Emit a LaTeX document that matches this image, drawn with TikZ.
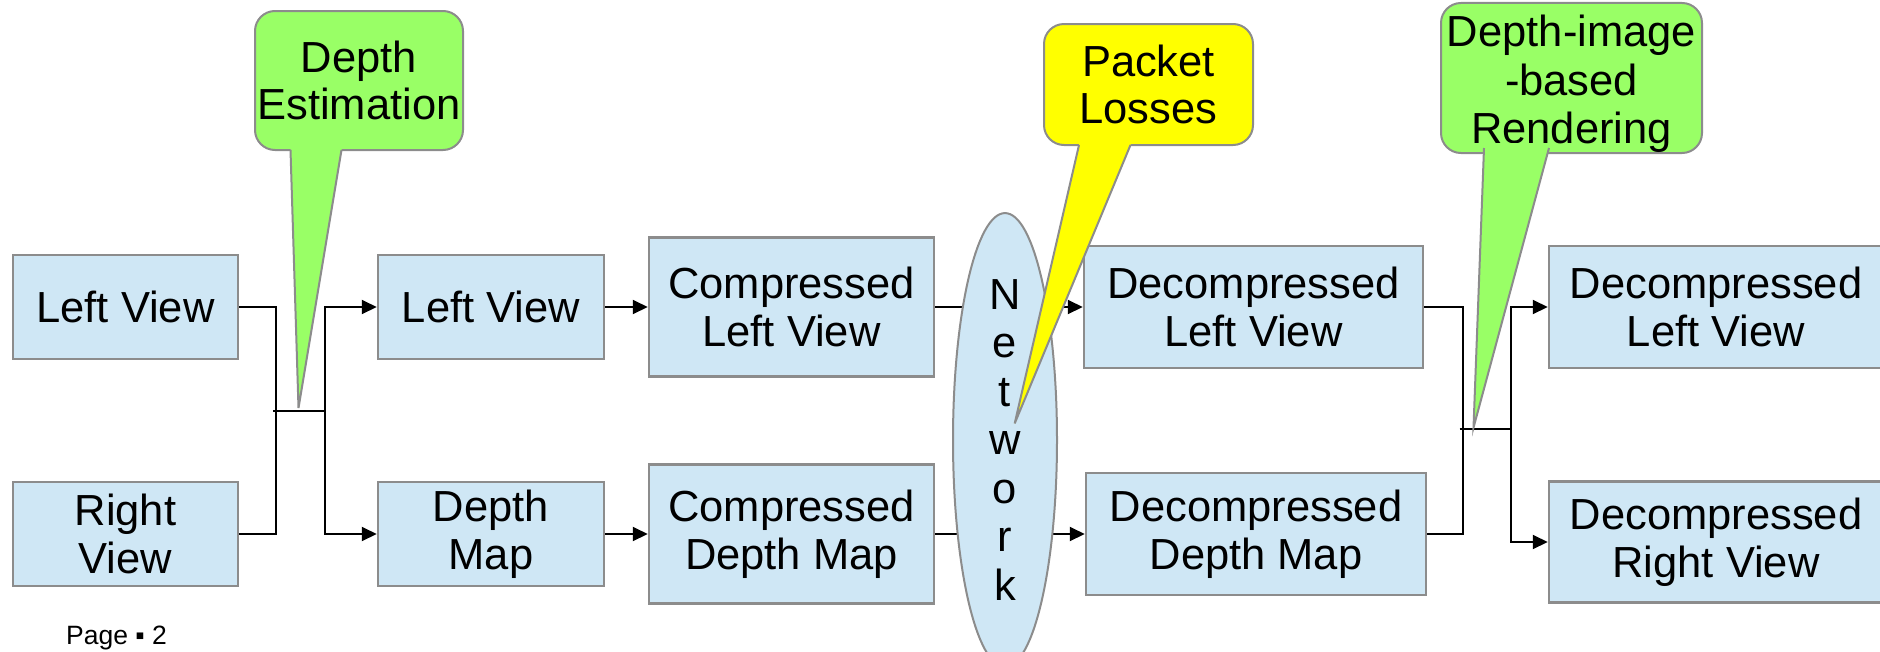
\documentclass[tikz,border=0pt]{standalone}
\usepackage{fontspec}
\setmainfont{Liberation Sans}
\usetikzlibrary{shapes.geometric,arrows.meta,backgrounds}
\definecolor{boxblue}{HTML}{CFE7F5}
\definecolor{boxline}{HTML}{8C8C8C}
\definecolor{callgreen}{HTML}{99FF66}
\definecolor{callyellow}{HTML}{FFFF00}
\tikzset{
  txt/.style={font=\fontsize{43.5}{47.5}\selectfont, align=center, text=black},
  blk/.style={txt, draw=boxline, line width=2.5pt, fill=boxblue, inner sep=0pt},
  conn/.style={draw=black, line width=2pt},
  arr/.style={conn, -{Triangle[length=15pt,width=14pt]}},
  callout/.style={txt, draw=boxline, line width=2pt, rounded corners=20pt, inner sep=0pt},
  tailline/.style={draw=boxline, line width=2pt, line join=miter},
}
\begin{document}
\begin{tikzpicture}[x=1pt, y=-1pt]
\useasboundingbox (0,0) rectangle (1880,651);

% process boxes
\node[blk, minimum width=225pt, minimum height=104pt] (lv1) at (125.5,307) {Left View};
\node[blk, minimum width=225pt, minimum height=104pt] (rv1) at (125.5,534) {Right\\View};
\node[blk, minimum width=226pt, minimum height=104pt] (lv2) at (491,307) {Left View};
\node[blk, minimum width=226pt, minimum height=104pt] (dm) at (491,534) {Depth\\Map};
\node[blk, minimum width=285pt, minimum height=139pt] (clv) at (791.5,307) {Compressed\\Left View};
\node[blk, minimum width=285pt, minimum height=139pt] (cdm) at (791.5,534) {Compressed\\Depth Map};
\node[blk, minimum width=339pt, minimum height=122pt] (dlv) at (1253.5,307) {Decompressed\\Left View};
\node[blk, minimum width=340pt, minimum height=122pt] (ddm) at (1256,534) {Decompressed\\Depth Map};
\node[blk, minimum width=334pt, minimum height=122pt] (dlv2) at (1716,307) {Decompressed\\Left View};
\node[blk, minimum width=334pt, minimum height=121pt] (drv) at (1716,542) {Decompressed\\Right View};

% connectors (behind)
\coordinate (m1) at (276,411);
\coordinate (s1) at (324.5,411);
\coordinate (m2) at (1462.5,429);
\coordinate (s2) at (1510.5,429);
\begin{pgfonlayer}{background}
\draw[conn] (lv1.east) -| (m1) |- (rv1.east);
\draw[conn] ([xshift=-3pt]m1) -- (s1);
\draw[arr] (s1) |- (lv2.west);
\draw[arr] (s1) |- (dm.west);
\draw[arr] (lv2.east) -- (clv.west);
\draw[arr] (dm.east) -- (cdm.west);
\draw[arr] (clv.east) -- (dlv.west);
\draw[arr] (cdm.east) -- (ddm.west);
\draw[conn] (dlv.east) -| (m2) |- (ddm.east);
\draw[conn] ([xshift=-3pt]m2) -- (s2);
\draw[arr] (s2) |- (dlv2.west);
\draw[arr] (s2) |- (drv.west);
\end{pgfonlayer}

% network
\node[ellipse, draw=boxline, line width=2pt, fill=boxblue, inner sep=0pt,
      minimum width=104pt, minimum height=442pt, align=center,
      font=\fontsize{43.5}{48.5}\selectfont] (net) at (1005,440) {N\\e\\t\\w\\o\\r\\k};

% callouts
\node[callout, fill=callgreen, minimum width=208pt, minimum height=139pt] (de) at (359,80.5) {Depth\\Estimation};
\node[callout, fill=callyellow, minimum width=209pt, minimum height=121pt] (pl) at (1148.5,84.5) {Packet\\Losses};
\node[callout, fill=callgreen, minimum width=261pt, minimum height=140pt,
      font=\fontsize{43.5}{48.5}\selectfont] (dr) at (1571.5,78) {\rule{0pt}{44pt}Depth-image\\-based\\Rendering};

\coordinate (de-l) at (290.5,150);
\coordinate (de-r) at (341.5,150);
\coordinate (de-tip) at (298.5,408);
\coordinate (pl-l) at (1079,145);
\coordinate (pl-r) at (1130.5,145);
\coordinate (pl-tip) at (1014.7,423.4);
\coordinate (dr-l) at (1484,148);
\coordinate (dr-r) at (1549,148);
\coordinate (dr-tip) at (1473.5,427.6);

\fill[callgreen] ([yshift=5pt]de-l) -- (de-l) -- (de-tip) -- (de-r) -- ([yshift=5pt]de-r) -- cycle;
\draw[tailline] (de-l) -- (de-tip) -- (de-r);
\fill[callyellow] ([yshift=5pt]pl-l) -- (pl-l) -- (pl-tip) -- (pl-r) -- ([yshift=5pt]pl-r) -- cycle;
\draw[tailline] (pl-l) -- (pl-tip) -- (pl-r);
\fill[callgreen] ([yshift=5pt]dr-l) -- (dr-l) -- (dr-tip) -- (dr-r) -- ([yshift=5pt]dr-r) -- cycle;
\draw[tailline] (dr-l) -- (dr-tip) -- (dr-r);

% page number
\node[anchor=base west, inner sep=0pt, font=\fontsize{26.5}{30}\selectfont] (pg) at (66,644) {Page ▪ 2};
\end{tikzpicture}
\end{document}
